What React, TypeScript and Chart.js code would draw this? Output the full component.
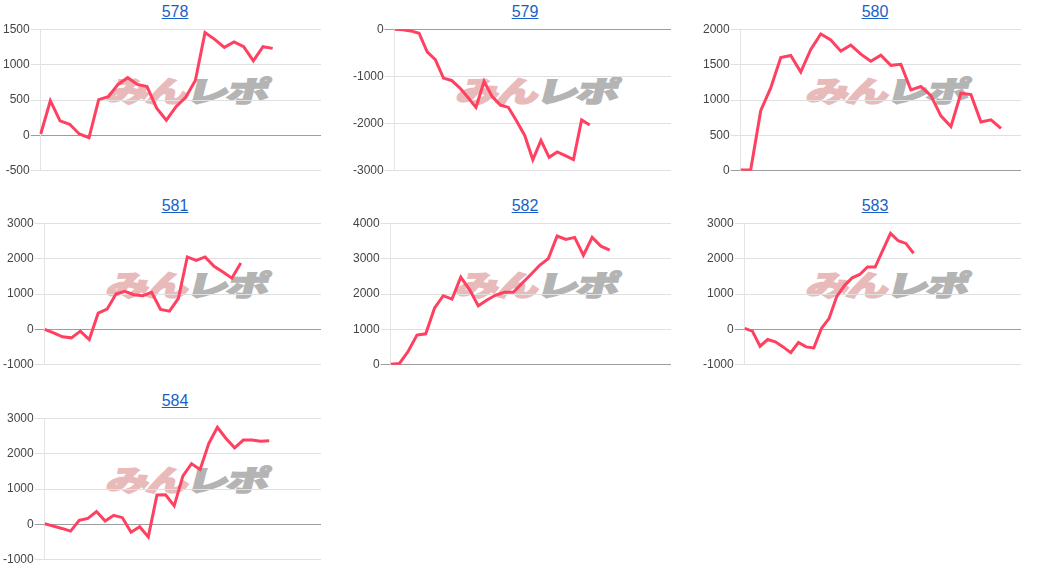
import React, { useEffect, useRef } from 'react';
import { Chart, registerables } from 'chart.js';

Chart.register(...registerables);

const titles = ['578', '579', '580', '581', '582', '583', '584'];

const values578 = [20, 490, 205, 157, 20, -33, 505, 548, 720, 815, 720, 690, 385, 215, 405, 538, 776, 1452, 1357, 1243, 1319, 1252, 1052, 1252, 1229];
const values579 = [0, -14, -36, -86, -479, -643, -1036, -1086, -1243, -1443, -1657, -1107, -1429, -1607, -1657, -1943, -2250, -2764, -2357, -2714, -2600, -2679, -2764, -1921, -2029];
const values580 = [10, 14, 848, 1171, 1600, 1629, 1395, 1714, 1933, 1848, 1690, 1776, 1648, 1548, 1633, 1490, 1505, 1143, 1190, 1062, 776, 624, 1095, 1076, 690, 719, 600];
const values581 = [0, -95, -210, -238, -48, -286, 457, 571, 1000, 1076, 981, 952, 1048, 562, 514, 876, 2048, 1952, 2048, 1781, 1619, 1448, 1876];
const values582 = [19, 38, 381, 838, 876, 1600, 1952, 1857, 2476, 2124, 1667, 1829, 1971, 2048, 2048, 2305, 2552, 2810, 3000, 3638, 3543, 3600, 3095, 3600, 3352, 3238];
const values583 = [29, -48, -476, -286, -352, -495, -657, -371, -495, -524, 29, 314, 933, 1238, 1457, 1552, 1762, 1762, 2238, 2714, 2505, 2429, 2152];
const values584 = [19, -48, -114, -190, 114, 171, 362, 95, 257, 190, -219, -67, -352, 829, 838, 524, 1362, 1714, 1552, 2286, 2743, 2429, 2162, 2381, 2381, 2352, 2362];

const seriesList = [values578, values579, values580, values581, values582, values583, values584];
const categoryCounts = [30, 35, 29, 32, 33, 37, 33];
const yMins = [-500, -3000, 0, -1000, 0, -1000, -1000];
const yMaxs = [1500, 0, 2000, 3000, 4000, 3000, 3000];
const ySteps = [500, 1000, 500, 1000, 1000, 1000, 1000];

const FONT = 'Arial, "Liberation Sans", sans-serif';
const CELL_W = 350;
const ROW_TOPS = [0, 194, 389];

type MiniProps = {
  title: string;
  values: number[];
  count: number;
  min: number;
  max: number;
  step: number;
  left: number;
  top: number;
};

function MiniChart({ title, values, count, min, max, step, left, top }: MiniProps) {
  const ref = useRef<HTMLCanvasElement | null>(null);
  useEffect(() => {
    if (!ref.current) return;
    const labels = Array.from({ length: count }, (_, i) => String(i + 1));
    const chart = new Chart(ref.current, {
      type: 'line',
      data: {
        labels,
        datasets: [
          {
            data: values,
            borderColor: 'rgb(255, 64, 96)',
            backgroundColor: 'rgb(255, 64, 96)',
            borderWidth: 3,
            pointRadius: 0,
            tension: 0,
            fill: false,
          },
        ],
      },
      options: {
        animation: false,
        responsive: false,
        devicePixelRatio: 1,
        layout: { padding: { left: 2, right: 29, top: 3, bottom: 7 } },
        plugins: { legend: { display: false }, tooltip: { enabled: false }, title: { display: false } },
        scales: {
          x: { display: false, offset: false },
          y: {
            min,
            max,
            border: { display: true, color: '#e4e4e4', width: 1 },
            grid: {
              drawTicks: true,
              tickLength: 10,
              color: (ctx: any) => (ctx.tick && ctx.tick.value === 0 ? '#9e9e9e' : '#e0e0e0'),
              lineWidth: 1,
            },
            ticks: {
              stepSize: step,
              padding: 1,
              color: '#444',
              font: { family: FONT, size: 12 },
              callback: (v: any) => String(v),
            },
          },
        },
      },
    });
    return () => chart.destroy();
  }, [values, count, min, max, step]);

  return (
    <div style={{ position: 'absolute', left, top, width: CELL_W, height: 194 }}>
      <div
        style={{
          position: 'absolute',
          left: 108,
          top: 72,
          width: 170,
          height: 36,
          whiteSpace: 'nowrap',
          fontFamily: '"Noto Sans CJK JP", sans-serif',
          fontWeight: 900,
          fontSize: 34,
          lineHeight: '36px',
          transform: 'skewX(-14deg) scale(1.25, 0.85)',
          transformOrigin: 'left center',
          letterSpacing: -2,
        }}
      >
        <span style={{ color: '#e8baba', WebkitTextStroke: '2px #e8baba' }}>みん</span>
        <span style={{ color: '#b4b4b4', WebkitTextStroke: '2px #b4b4b4' }}>レポ</span>
      </div>
      <div
        style={{
          position: 'absolute',
          left: 0,
          top: 0,
          width: CELL_W,
          height: 24,
          lineHeight: '24px',
          textAlign: 'center',
          fontFamily: FONT,
          fontSize: 16,
        }}
      >
        <a href="#" style={{ color: '#1a5fc8', textDecoration: 'underline' }} onClick={(e) => e.preventDefault()}>
          {title}
        </a>
      </div>
      <canvas
        ref={ref}
        width={CELL_W}
        height={158}
        style={{ position: 'absolute', left: 0, top: 21, width: CELL_W, height: 158 }}
      />
    </div>
  );
}

export default function App() {
  return (
    <div style={{ position: 'absolute', left: 0, top: 0, width: 1050, height: 582, background: '#fff' }}>
      {titles.map((t, i) => (
        <MiniChart
          key={t}
          title={t}
          values={seriesList[i]}
          count={categoryCounts[i]}
          min={yMins[i]}
          max={yMaxs[i]}
          step={ySteps[i]}
          left={(i % 3) * CELL_W}
          top={ROW_TOPS[Math.floor(i / 3)]}
        />
      ))}
    </div>
  );
}
